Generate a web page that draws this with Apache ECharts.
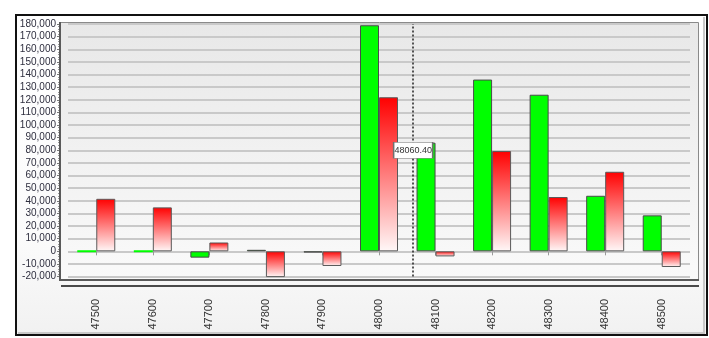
<!DOCTYPE html>
<html>
<head>
<meta charset="utf-8">
<script src="https://cdn.jsdelivr.net/npm/echarts@6/dist/echarts.min.js"></script>
<style>
  html, body { margin: 0; padding: 0; background: #ffffff; }
  #chart { width: 709px; height: 338px; }
</style>
</head>
<body>
<div id="chart"></div>
<script>
// Strike prices along the x axis
const strikes = ['47500', '47600', '47700', '47800', '47900', '48000', '48100', '48200', '48300', '48400', '48500'];
// Green series (calls) and red series (puts)
const callValues = [0, 0, -5000, 1200, -900, 179000, 86000, 136000, 124000, 44000, 28500];
const putValues = [41600, 34800, 7000, -20600, -11600, 122000, -4000, 79400, 43000, 63000, -12400];
// Value axis range and step
const yMin = -20000;
const yMax = 180000;
const yStep = 10000;
// Cursor position shown with the dotted line
const cursorValue = 48060.40;

const chart = echarts.init(document.getElementById('chart'), null, { renderer: 'canvas' });

const font = 'Liberation Sans, Arial, sans-serif';
const greenFill = '#00ff00';
const redGradient = new echarts.graphic.LinearGradient(0, 0, 0, 1, [
  { offset: 0, color: '#ff0000' },
  { offset: 1, color: '#fff8f8' }
]);

const callData = callValues.map(v => v === 0
  ? { value: v, itemStyle: { borderColor: greenFill, borderWidth: 2 } }
  : v);

// half-category padding on each side of the strike range
const stepX = Number(strikes[1]) - Number(strikes[0]);
const xLo = Number(strikes[0]) - stepX / 2;
const xHi = Number(strikes[strikes.length - 1]) + stepX / 2;

chart.setOption({
  animation: false,
  backgroundColor: '#ffffff',
  textStyle: { fontFamily: font },
  graphic: [
    {
      type: 'rect', z: -10, silent: true,
      shape: { x: 16, y: 15, width: 691, height: 320 },
      style: {
        fill: new echarts.graphic.LinearGradient(0, 0, 0, 1, [
          { offset: 0, color: '#ffffff' }, { offset: 0.7, color: '#fbfbfb' }, { offset: 1, color: '#f1f1f1' }
        ]),
        stroke: '#111111', lineWidth: 2
      }
    },
    {
      type: 'polyline', z: -9, silent: true,
      shape: { points: [[704, 17], [704, 333], [18, 333]] },
      style: { stroke: '#c8c8c8', lineWidth: 2, fill: null }
    },
    {
      type: 'rect', z: -8, silent: true,
      shape: { x: 60.5, y: 22.5, width: 638, height: 257 },
      style: {
        fill: new echarts.graphic.LinearGradient(0, 0, 0, 1, [
          { offset: 0, color: '#e8e8e8' }, { offset: 1, color: '#fafafa' }
        ]),
        stroke: '#8a8a8a', lineWidth: 1
      }
    },
    {
      type: 'polyline', z: 5, silent: true,
      shape: { points: [[60, 22], [60, 280], [699, 280]] },
      style: { stroke: '#5a5a5a', lineWidth: 2, fill: null }
    },
    {
      type: 'line', z: 5, silent: true,
      shape: { x1: 61, y1: 286, x2: 699, y2: 286 },
      style: { stroke: '#4a4a4a', lineWidth: 2 }
    }
  ],
  grid: { left: 68, right: 19, top: 24, bottom: 61.4, containLabel: false },
  xAxis: [
    {
      type: 'category',
      data: strikes,
      offset: 9.4,
      axisLine: { show: false },
      axisTick: { show: true, alignWithLabel: true, length: 4, lineStyle: { color: '#9a9a9a' } },
      axisLabel: { rotate: 90, margin: 13, fontSize: 11, color: '#333333', fontFamily: font },
      splitLine: { show: false }
    },
    {
      type: 'value',
      min: xLo, max: xHi,
      show: false
    }
  ],
  yAxis: {
    type: 'value',
    min: yMin, max: yMax, interval: yStep,
    offset: 8,
    axisLine: { show: false },
    axisTick: { show: true, length: 3, lineStyle: { color: '#777777' } },
    minorTick: { show: true, splitNumber: 5, length: 2, lineStyle: { color: '#999999' } },
    axisLabel: {
      fontSize: 10, color: '#2e2e3e', margin: 4, fontFamily: font,
      formatter: v => v.toLocaleString('en-US')
    },
    splitLine: { show: true, lineStyle: { color: '#c9c9c9', width: 2 } }
  },
  series: [
    {
      name: 'Calls',
      type: 'bar',
      data: callData,
      barWidth: 19,
      barGap: '0%',
      itemStyle: { color: greenFill, borderColor: '#4a4a4a', borderWidth: 1 }
    },
    {
      name: 'Puts',
      type: 'bar',
      data: putValues,
      barWidth: 19,
      barGap: '0%',
      itemStyle: { color: redGradient, borderColor: '#5a5a5a', borderWidth: 1 }
    },
    {
      name: 'Cursor',
      type: 'line',
      xAxisIndex: 1,
      data: [],
      markLine: {
        silent: true,
        symbol: ['none', 'none'],
        label: { show: false },
        lineStyle: { color: '#222222', type: [2, 2], width: 1.5 },
        data: [{ xAxis: cursorValue }]
      },
      markPoint: {
        silent: true,
        symbol: 'rect',
        symbolSize: [39, 16],
        itemStyle: { color: '#ffffff', borderColor: '#707070', borderWidth: 1 },
        label: {
          show: true, position: 'inside', fontSize: 9, color: '#333333', fontFamily: font,
          formatter: () => cursorValue.toFixed(2)
        },
        data: [{ coord: [cursorValue, (yMin + yMax) / 2] }]
      }
    }
  ]
});
</script>
</body>
</html>
